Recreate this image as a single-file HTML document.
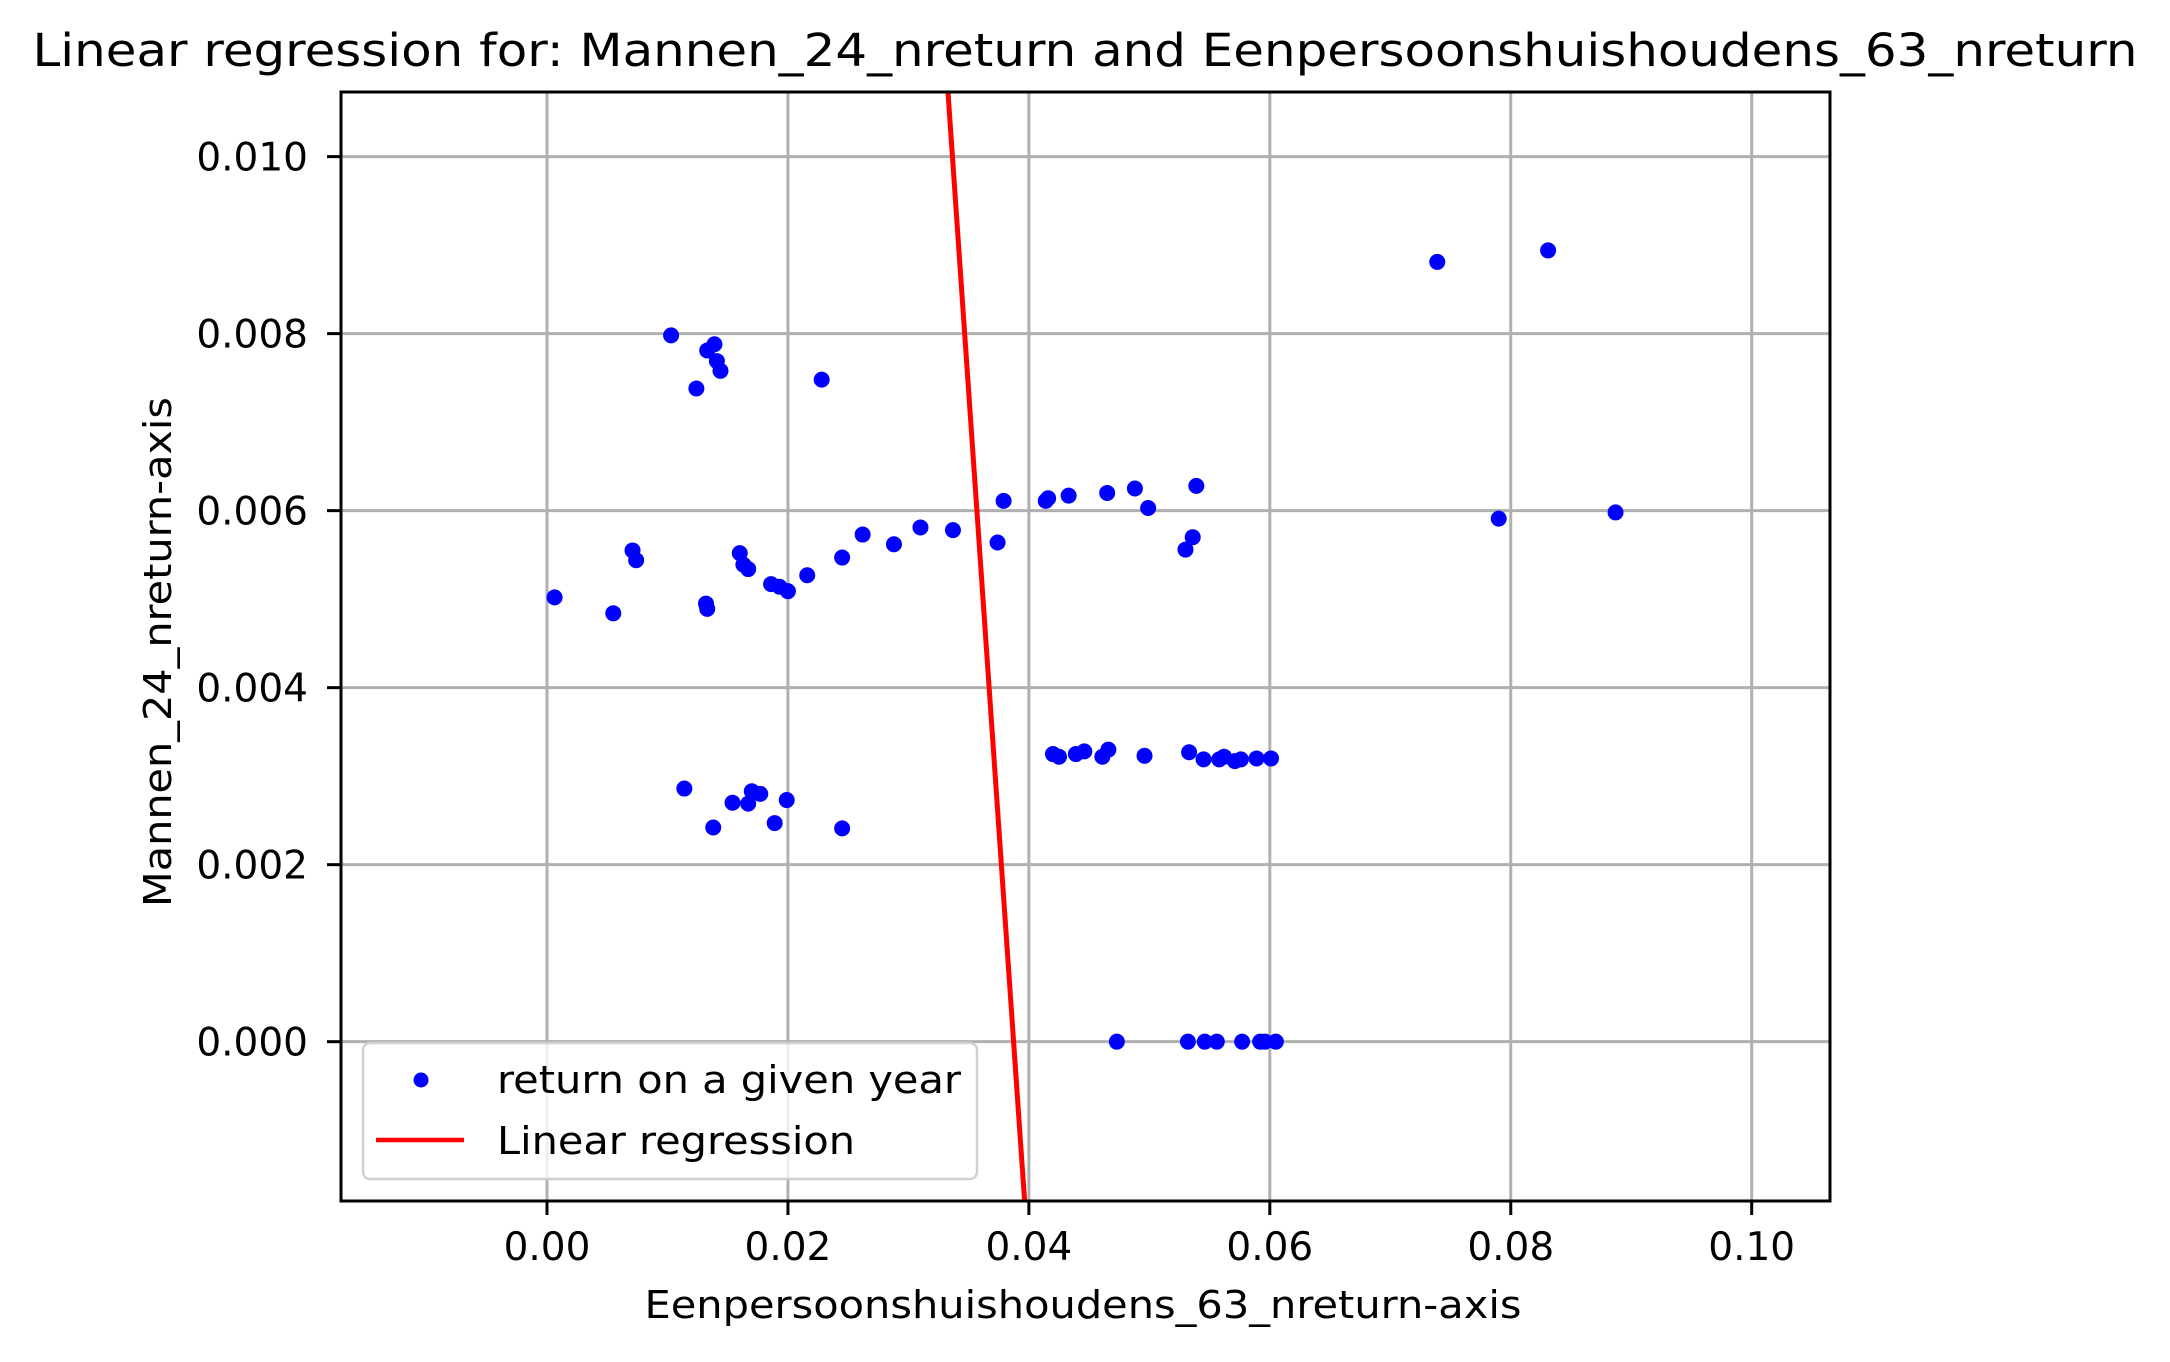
<!DOCTYPE html>
<html><head><meta charset="utf-8">
<style>
html,body{margin:0;padding:0;background:#fff;width:2170px;height:1362px;overflow:hidden;}
svg{display:block;font-family:"DejaVu Sans","Liberation Sans",sans-serif;}
</style></head>
<body>
<svg id="chart" width="2170" height="1362" viewBox="0 0 2170 1362" xmlns="http://www.w3.org/2000/svg">
<rect x="0" y="0" width="2170" height="1362" fill="#fff"/>
<text x="1085" y="66" font-size="45" text-anchor="middle" textLength="2105" lengthAdjust="spacingAndGlyphs">Linear regression for: Mannen_24_nreturn and Eenpersoonshuishoudens_63_nreturn</text>
<g id="grid"></g>
<g id="plot"></g>
<g id="axes"></g>
<text x="1083" y="1318" font-size="38" text-anchor="middle" textLength="877" lengthAdjust="spacingAndGlyphs">Eenpersoonshuishoudens_63_nreturn-axis</text>
<text transform="translate(171,652) rotate(-90)" font-size="38" text-anchor="middle" textLength="510" lengthAdjust="spacingAndGlyphs">Mannen_24_nreturn-axis</text>
<g>
<rect x="363" y="1043" width="614" height="136" rx="7" fill="#fff" fill-opacity="0.8" stroke="#d0d0d0" stroke-width="2.5"/>
<circle cx="421" cy="1080" r="7.5" fill="#0000ff"/>
<text x="497" y="1093" font-size="38" textLength="464" lengthAdjust="spacingAndGlyphs">return on a given year</text>
<line x1="376" y1="1140" x2="464" y2="1140" stroke="#ff0000" stroke-width="4.5"/>
<text x="497" y="1154" font-size="38" textLength="358" lengthAdjust="spacingAndGlyphs">Linear regression</text>
</g>
</svg>
<script>
const xs = [0.00063,0.0055,0.0071,0.0074,0.0103,0.0114,0.0124,0.0132,0.0133,0.0133,0.0139,0.0138,0.0141,0.0144,0.0154,0.016,0.0163,0.0167,0.0167,0.017,0.0177,0.0186,0.0189,0.0193,0.02,0.0199,0.0216,0.0228,0.0245,0.0245,0.0262,0.0288,0.031,0.0337,0.0374,0.0379,0.0414,0.0416,0.0433,0.0465,0.0488,0.0499,0.053,0.0536,0.0539,0.0739,0.0790,0.0831,0.0887,
0.042,0.0425,0.0439,0.0446,0.0461,0.0466,0.0496,0.0533,0.0545,0.0558,0.0562,0.0571,0.0576,0.0589,0.0601,
0.0473,0.0532,0.0546,0.0556,0.0577,0.0592,0.0596,0.0605];
const ys = [0.00502,0.00484,0.00555,0.00544,0.00798,0.00286,0.00738,0.00495,0.00489,0.00781,0.00788,0.00242,0.00769,0.00758,0.0027,0.00552,0.00539,0.00534,0.00269,0.00283,0.0028,0.00517,0.00247,0.00514,0.00509,0.00273,0.00527,0.00748,0.00547,0.00241,0.00573,0.00562,0.00581,0.00578,0.00564,0.00611,0.00611,0.00614,0.00617,0.0062,0.00625,0.00603,0.00556,0.0057,0.00628,0.00881,0.00591,0.00894,0.00598,
0.00325,0.00322,0.00325,0.00328,0.00322,0.0033,0.00323,0.00327,0.00319,0.00319,0.00322,0.00317,0.00319,0.0032,0.0032,
0,0,0,0,0,0,0,0];
const regSlope = [-1.97];
const regIntercept = [0.0763];
const xTicks = [0,0.02,0.04,0.06,0.08,0.10];
const xTickLabels = ["0.00","0.02","0.04","0.06","0.08","0.10"];
const yTicks = [0,0.002,0.004,0.006,0.008,0.010];
const yTickLabels = ["0.000","0.002","0.004","0.006","0.008","0.010"];
const xDomain = [-0.0171,0.1065];
const yDomain = [-0.0018,0.01073];

const L=341,R=1830,T=92,B=1201;
const NS='http://www.w3.org/2000/svg';
function sx(v){return L+(v-xDomain[0])/(xDomain[1]-xDomain[0])*(R-L);}
function sy(v){return B-(v-yDomain[0])/(yDomain[1]-yDomain[0])*(B-T);}
function mk(tag,attrs,parent){const e=document.createElementNS(NS,tag);for(const k in attrs)e.setAttribute(k,attrs[k]);parent.appendChild(e);return e;}
const grid=document.getElementById('grid'),plot=document.getElementById('plot'),axes=document.getElementById('axes');

xTicks.forEach((t,i)=>{
  const g=mk('line',{x1:sx(t),x2:sx(t),y1:T,y2:B,stroke:'#b0b0b0','stroke-width':3},grid);
  
  
  const tk=mk('line',{x1:sx(t),x2:sx(t),y1:B,y2:B+14,stroke:'#000','stroke-width':3},axes);
  
  
  const tx=mk('text',{x:sx(t),y:1260,'font-size':39,'text-anchor':'middle'},axes);
  tx.textContent=xTickLabels[i];
  
  
});
yTicks.forEach((t,i)=>{
  const g=mk('line',{x1:L,x2:R,y1:sy(t),y2:sy(t),stroke:'#b0b0b0','stroke-width':3},grid);
  
  
  const tk=mk('line',{x1:L-14,x2:L,y1:sy(t),y2:sy(t),stroke:'#000','stroke-width':3},axes);
  
  
  const tx=mk('text',{x:308,y:sy(t)+14,'font-size':39,'text-anchor':'end'},axes);
  tx.textContent=yTickLabels[i];
  
  
});
const defs=mk('defs',{},plot);
const cp=mk('clipPath',{id:'clip'},defs);
mk('rect',{x:L,y:T,width:R-L,height:B-T},cp);
const pg=mk('g',{'clip-path':'url(#clip)'},plot);
xs.forEach((x,i)=>{
  const c=mk('circle',{cx:sx(x),cy:sy(ys[i]),r:8,fill:'#0000ff'},pg);
  
  
});
const xa=xDomain[0],xb=xDomain[1];
const rl=mk('line',{x1:sx(xa),y1:sy(regSlope[0]*xa+regIntercept[0]),x2:sx(xb),y2:sy(regSlope[0]*xb+regIntercept[0]),stroke:'#ff0000','stroke-width':5},pg);


const fr=mk('rect',{x:L,y:T,width:R-L,height:B-T,fill:'none',stroke:'#000','stroke-width':3},axes);


</script>
</body></html>
